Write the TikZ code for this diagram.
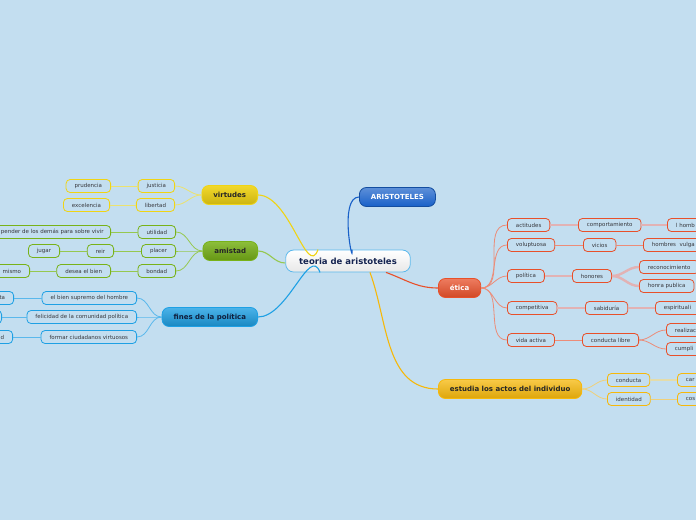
\documentclass[tikz,border=0pt]{standalone}
\usepackage{fontspec}
\setmainfont{DejaVu Sans}
\definecolor{bg}{RGB}{195,222,240}
\definecolor{txt}{RGB}{55,55,60}
\definecolor{yel}{RGB}{240,212,20}
\definecolor{yelL}{RGB}{236,226,110}
\definecolor{grn}{RGB}{120,178,24}
\definecolor{grnL}{RGB}{150,200,80}
\definecolor{blu}{RGB}{30,160,228}
\definecolor{bluL}{RGB}{90,184,236}
\definecolor{ora}{RGB}{232,80,42}
\definecolor{oraL}{RGB}{236,140,120}
\definecolor{oraP}{RGB}{226,178,180}
\definecolor{gol}{RGB}{246,184,10}
\definecolor{golL}{RGB}{240,208,120}
\definecolor{golP}{RGB}{228,220,170}
\definecolor{dblu}{RGB}{24,96,200}
\tikzset{
 small/.style={draw, line width=0.8pt, rounded corners=4pt, fill=bg, minimum height=13pt, inner xsep=8.5pt, inner ysep=0pt, font=\fontsize{5.5}{6}\selectfont, text=txt},
 big/.style={draw, line width=0.8pt, rounded corners=7pt, minimum height=19pt, inner xsep=11.5pt, inner ysep=0pt, font=\fontsize{7}{8}\selectfont\bfseries},
 lcut/.style={text width=#1, align=right},
 rcut/.style={text width=#1, align=left},
 thin/.style={line width=0.8pt},
 thick/.style={line width=2.4pt},
}
\begin{document}
\begin{tikzpicture}[x=1pt,y=-1pt]
\fill[bg] (0,0) rectangle (696,520);
\useasboundingbox (0,0) rectangle (696,520);

% root and main branches
\node[big, rounded corners=8pt, minimum height=22pt, inner xsep=13.5pt, font=\fontsize{8.5}{9}\selectfont\bfseries, draw=bluL, top color=white, bottom color=gray!18, text={rgb,255:red,20;green,35;blue,80}] (root) at (348,261) {teoria de aristoteles};
\node[big, anchor=west, draw=dblu!80!black, top color=dblu!70!white, bottom color=dblu, text=white] (aris) at (359,197) {ARISTOTELES};
\node[big, anchor=east, draw=yel, top color=yel!90!white, bottom color=yel!85!black, text=black!85] (virt) at (258,195) {virtudes};
\node[big, anchor=east, draw=grn, top color=grn!85!white, bottom color=grn!85!black, text=black!85] (amis) at (258,251) {amistad};
\node[big, anchor=east, draw=blu, top color=blu!80!white, bottom color=blu!85!black, text={rgb,255:red,15;green,30;blue,60}] (fines) at (258,317) {fines de la política};
\node[big, anchor=west, draw=ora, top color=ora!75!white, bottom color=ora!90!black, text=white] (etica) at (438,288) {ética};
\node[big, anchor=west, draw=gol, top color=gol!75!white, bottom color=gol!90!black, text=black!85] (estu) at (438,389) {estudia los actos del individuo};

\draw[dblu, line width=1.1pt] ([xshift=4pt]root.north) to[out=-85,in=180] (aris.west);
\draw[yel, line width=1.1pt] ([xshift=-30pt]root.north) to[out=-110,in=0] (virt.east);
\draw[grnL, line width=1.1pt] ([yshift=-2pt]root.west) to[out=180,in=0] (amis.east);
\draw[blu, line width=1.1pt] ([xshift=-28pt]root.south) to[out=110,in=0] (fines.east);
\draw[ora, line width=1.1pt] ([xshift=38pt]root.south) to[out=-20,in=180] (etica.west);
\draw[gol, line width=1.1pt] ([xshift=22pt]root.south) to[out=-70,in=180] (estu.west);

% virtudes
\node[small, anchor=east, draw=yel] (just) at (175,186) {justicia};
\node[small, anchor=east, draw=yel] (libe) at (175,205) {libertad};
\node[small, anchor=east, draw=yel] (prud) at (111,186) {prudencia};
\node[small, anchor=east, draw=yel] (exce) at (110,205) {excelencia};
\draw[yelL, thin] (virt.west) to[out=180,in=0] (just.east);
\draw[yelL, thin] (virt.west) to[out=180,in=0] (libe.east);
\draw[yelL, thin] (just.west) -- (prud.east);
\draw[yelL, thin] (libe.west) -- (exce.east);

% amistad
\node[small, anchor=east, draw=grn] (util) at (176,232) {utilidad};
\node[small, anchor=east, draw=grn] (plac) at (176,251) {placer};
\node[small, anchor=east, draw=grn] (bond) at (176,271) {bondad};
\node[small, anchor=east, draw=grn, inner xsep=7pt] (depe) at (111,232) {pender de los demás para sobre vivir};
\node[small, anchor=east, draw=grn] (reir) at (114,251) {reir};
\node[small, anchor=east, draw=grn] (juga) at (60,251) {jugar};
\node[small, anchor=east, draw=grn] (dese) at (111,271) {desea el bien};
\node[small, anchor=east, draw=grn, lcut=40pt] (mism) at (30,271) {mismo};
\draw[grnL, thin] (amis.west) to[out=180,in=0] (util.east);
\draw[grnL, thin] (amis.west) to[out=180,in=0] (plac.east);
\draw[grnL, thin] (amis.west) to[out=180,in=0] (bond.east);
\draw[grnL, thin] (util.west) -- (depe.east);
\draw[grnL, thin] (plac.west) -- (reir.east);
\draw[grnL, thin] (reir.west) -- (juga.east);
\draw[grnL, thin] (bond.west) -- (dese.east);
\draw[grnL, thin] (dese.west) -- (mism.east);

% fines
\node[small, anchor=east, draw=blu] (bien) at (137,298) {el bien supremo del hombre};
\node[small, anchor=east, draw=blu] (feli) at (137,317) {felicidad de la comunidad política};
\node[small, anchor=east, draw=blu] (form) at (137,337) {formar ciudadanos virtuosos};
\node[small, anchor=east, draw=blu, lcut=40pt] (perf) at (14,298) {ta};
\node[small, anchor=east, draw=blu, lcut=40pt] (comu) at (2,317) {};
\node[small, anchor=east, draw=blu, lcut=40pt] (virtd) at (13,337) {d};
\draw[bluL, thin] (fines.west) to[out=180,in=0] (bien.east);
\draw[bluL, thin] (fines.west) to[out=180,in=0] (feli.east);
\draw[bluL, thin] (fines.west) to[out=180,in=0] (form.east);
\draw[bluL, thin] (bien.west) -- (perf.east);
\draw[bluL, thin] (feli.west) -- (comu.east);
\draw[bluL, thin] (form.west) -- (virtd.east);

% etica
\node[small, anchor=west, draw=ora] (acti) at (507,225) {actitudes};
\node[small, anchor=west, draw=ora] (volu) at (507,245) {voluptuosa};
\node[small, anchor=west, draw=ora] (poli) at (507,276) {política};
\node[small, anchor=west, draw=ora] (comp) at (507,308) {competitiva};
\node[small, anchor=west, draw=ora] (vida) at (507,340) {vida activa};
\node[small, anchor=west, draw=ora] (comt) at (578,225) {comportamiento};
\node[small, anchor=west, draw=ora] (vici) at (583,245) {vicios};
\node[small, anchor=west, draw=ora] (hono) at (572,276) {honores};
\node[small, anchor=west, draw=ora] (sabi) at (585,308) {sabiduría};
\node[small, anchor=west, draw=ora] (cond) at (582,340) {conducta libre};
\node[small, anchor=west, draw=ora, rcut=50pt] (homb) at (667,225) {l homb};
\node[small, anchor=west, draw=ora, rcut=70pt] (vulg) at (643,245) {hombres \ vulga};
\node[small, anchor=west, draw=ora] (reco) at (639,267) {reconocimiento};
\node[small, anchor=west, draw=ora] (honr) at (639,286) {honra publica};
\node[small, anchor=west, draw=ora, rcut=60pt] (espi) at (655,308) {espirituali};
\node[small, anchor=west, draw=ora, rcut=50pt] (real) at (666,330) {realizac};
\node[small, anchor=west, draw=ora, rcut=50pt] (cump) at (666,349) {cumpli};
\foreach \c in {acti,volu,poli,comp,vida}
  \draw[oraL, thin] (etica.east) to[out=0,in=180] (\c.west);
\draw[oraP, thick] (acti.east) -- (comt.west);
\draw[oraP, thick] (comt.east) -- (homb.west);
\draw[oraL, thin] (volu.east) -- (vici.west);
\draw[oraL, thin] (vici.east) -- (vulg.west);
\draw[oraP, thick] (poli.east) -- (hono.west);
\draw[oraP, thick] (hono.east) to[out=0,in=180] (reco.west);
\draw[oraP, thick] (hono.east) to[out=0,in=180] (honr.west);
\draw[oraP, thick] (comp.east) -- (sabi.west);
\draw[oraP, thick] (sabi.east) -- (espi.west);
\draw[oraL, thin] (vida.east) -- (cond.west);
\draw[oraL, thin] (cond.east) to[out=0,in=180] (real.west);
\draw[oraL, thin] (cond.east) to[out=0,in=180] (cump.west);

% estudia
\node[small, anchor=west, draw=gol] (cndu) at (607,380) {conducta};
\node[small, anchor=west, draw=gol] (iden) at (607,399) {identidad};
\node[small, anchor=west, draw=gol, rcut=40pt] (cara) at (677,380) {car};
\node[small, anchor=west, draw=gol, rcut=40pt] (cost) at (677,399) {cos};
\draw[golL, thin] (estu.east) to[out=0,in=180] (cndu.west);
\draw[golL, thin] (estu.east) to[out=0,in=180] (iden.west);
\draw[golP, thick] (cndu.east) -- (cara.west);
\draw[golL, thin] (iden.east) -- (cost.west);
\end{tikzpicture}
\end{document}
